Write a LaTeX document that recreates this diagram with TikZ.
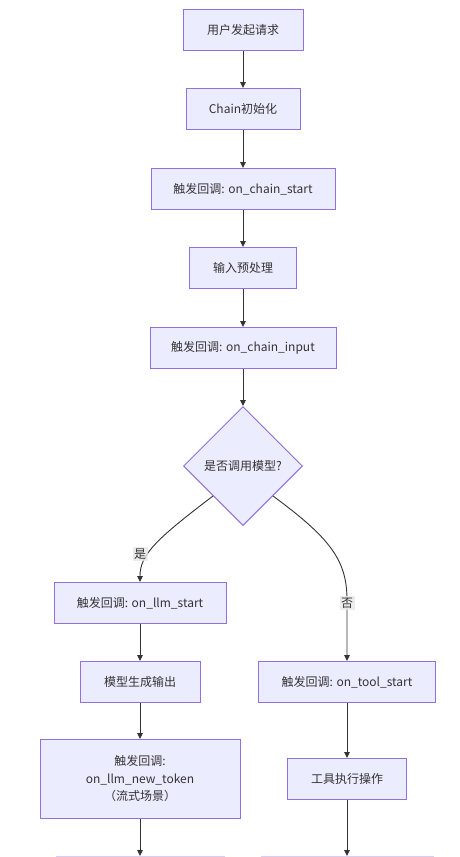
\documentclass[tikz,border=0pt]{standalone}
\usepackage{fontspec}
\setmainfont{Noto Sans CJK SC}
\usetikzlibrary{shapes.geometric,arrows.meta}
\definecolor{nodefill}{HTML}{ECECFF}
\definecolor{nodeline}{HTML}{9370DB}
\definecolor{edgecol}{HTML}{333333}
\definecolor{lblbg}{HTML}{E8E8E8}
\begin{document}
\begin{tikzpicture}[x=1pt,y=-1pt,
  box/.style={draw=nodeline, fill=nodefill, line width=1pt, text=edgecol, font=\fontsize{12}{16}\selectfont, minimum height=41pt, inner sep=0pt, align=center},
  dec/.style={diamond, draw=nodeline, fill=nodefill, line width=1pt, text=edgecol, font=\fontsize{12}{16}\selectfont, minimum width=119pt, minimum height=119pt, inner sep=0pt, aspect=1},
  arr/.style={draw=edgecol, line width=0.9pt, -{Triangle[length=6pt,width=5.5pt]}},
  lbl/.style={fill=lblbg, fill opacity=0.8, text opacity=1, text=edgecol, font=\fontsize{12}{14}\selectfont, inner sep=1.5pt}]
\useasboundingbox (0,0) rectangle (459,857);
\clip (0,0) rectangle (459,857);
\fill[white] (0,0) rectangle (459,857);
\node[box, minimum width=120pt] (a) at (243,30) {用户发起请求};
\node[box, minimum width=114pt] (b) at (243,109) {Chain初始化};
\node[box, minimum width=184pt] (c) at (243,189) {触发回调: on\_chain\_start};
\node[box, minimum width=107pt] (d) at (243,268) {输入预处理};
\node[box, minimum width=186pt] (e) at (243,348) {触发回调: on\_chain\_input};
\node[dec] (q) at (243,466) {是否调用模型?};
\node[box, minimum width=172pt] (f) at (140,603) {触发回调: on\_llm\_start};
\node[box, minimum width=120pt] (g) at (140,682) {模型生成输出};
\node[box, minimum width=200pt, minimum height=79pt, font=\fontsize{12}{17.5}\selectfont] (h) at (140,779) {触发回调:\\on\_llm\_new\_token\\（流式场景）};
\node[box, minimum width=177pt] (t) at (347,682) {触发回调: on\_tool\_start};
\node[box, minimum width=119pt] (u) at (347,779) {工具执行操作};
\node[box, draw=nodeline!35, fill=nodefill!60, minimum width=168pt, anchor=north] (i) at (140,856) {};
\node[box, draw=nodeline!35, fill=nodefill!60, minimum width=172pt, anchor=north] (v) at (347,856) {};
\draw[arr] (a) -- (b);
\draw[arr] (b) -- (c);
\draw[arr] (c) -- (d);
\draw[arr] (d) -- (e);
\draw[arr] (e) -- (q);
\draw[arr] (q.south west) .. controls (155,540) and (140,555) .. (f.north);
\draw[arr] (q.south east) .. controls (330,538) and (347,560) .. (347,600) -- (t.north);
\draw[arr] (f) -- (g);
\draw[arr] (g) -- (h);
\draw[arr] (h) -- (i);
\draw[arr] (t) -- (u);
\draw[arr] (u) -- (v);
\node[lbl] (ly) at (140,554) {是};
\node[lbl] (ln) at (347,603) {否};
\end{tikzpicture}
\end{document}
